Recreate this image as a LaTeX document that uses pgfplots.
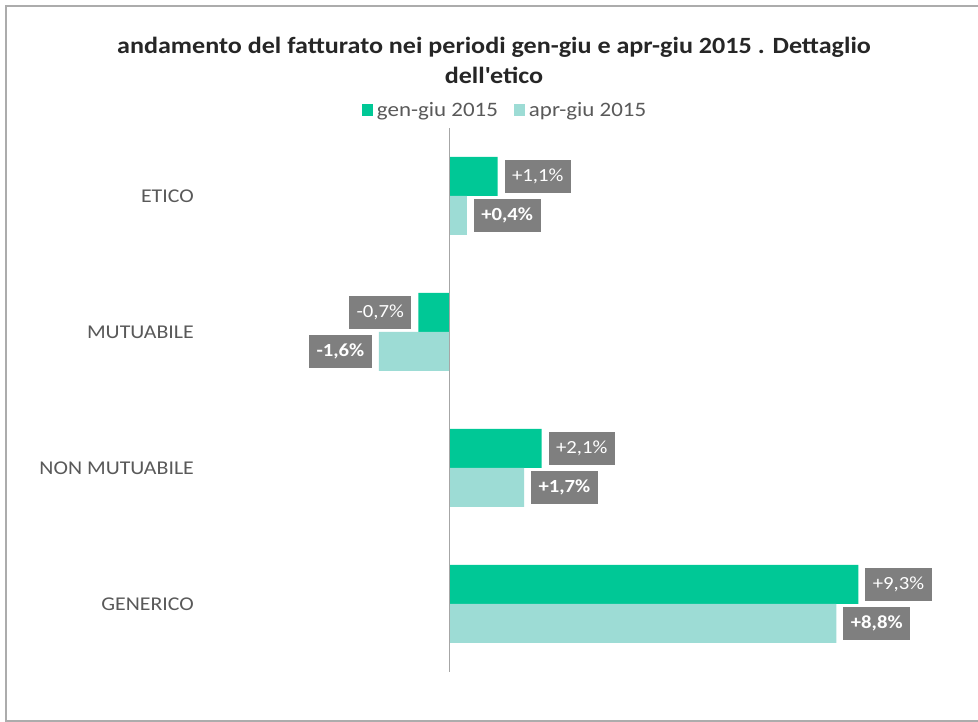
\documentclass[border=0pt]{standalone}
\usepackage{fontspec}
\setmainfont{Carlito}[FakeStretch=1.12]
\usepackage{pgfplots}
\pgfplotsset{compat=1.18}
\usepackage{pgfplotstable}

\definecolor{genc}{RGB}{0,200,150}
\definecolor{aprc}{RGB}{157,220,213}
\definecolor{boxc}{RGB}{127,127,127}
\definecolor{txtc}{RGB}{89,89,89}
\definecolor{ttlc}{RGB}{38,38,38}

% y: 3 = ETICO ... 0 = GENERICO
\pgfplotstableread{
y x
3 1.1
2 -0.7
1 2.1
0 9.3
}\gengiu
\pgfplotstableread{
y x
3 0.4
2 -1.6
1 1.7
0 8.8
}\aprgiu

\begin{document}
\begin{tikzpicture}[x=1pt,y=1pt]
\useasboundingbox (0,0) rectangle (978,722);
\fill[white] (0,0) rectangle (978,722);
\draw[gray!65, line width=1.5pt] (990,1) -- (6,1) -- (6,716) -- (990,716);
\node[font=\fontsize{23.3}{30}\selectfont\bfseries, text=ttlc, align=center]
  at (494,662) {andamento del fatturato nei periodi gen-giu e apr-giu 2015 . Dettaglio\\dell\textquotesingle etico};
\begin{axis}[
  at={(194pt,50pt)}, anchor=south west,
  x=44pt, y=136pt,
  xmin=-5.8, xmax=11.5, ymin=-0.5, ymax=3.5,
  xbar, bar width=39pt,
  axis line style={draw=none},
  xtick=\empty,
  ytick={0,1,2,3},
  yticklabels={GENERICO,NON MUTUABILE,MUTUABILE,ETICO},
  major tick length=0pt,
  yticklabel style={font=\fontsize{19.5}{22}\selectfont, text=txtc, inner xsep=0pt},
  point meta=x,
  nodes near coords={\pgfmathprintnumber[showpos,use comma,fixed,fixed zerofill,precision=1,assume math mode=true]{\pgfplotspointmeta}\%},
  nodes near coords style={fill=boxc, text=white, inner xsep=7.5pt, inner ysep=0pt,
    minimum height=33pt, outer xsep=7pt, outer ysep=0pt,
    font=\fontsize{18.5}{20}\selectfont},
  legend style={at={(0.41,1.033)}, anchor=center, draw=none, legend columns=2,
    font=\fontsize{20.5}{22}\selectfont, text=txtc,
    nodes={inner xsep=4pt},
    /tikz/every even column/.append style={column sep=12pt}},
  legend image code/.code={\fill[#1] (0pt,-6pt) rectangle (11pt,6pt);},
]
\addplot[fill=genc, draw=none, bar shift=19.5pt] table[x=x,y=y] {\gengiu};
\addlegendentry{gen-giu 2015}
\addplot[fill=aprc, draw=none, bar shift=-19.5pt,
  nodes near coords style={font=\fontsize{18.5}{20}\selectfont\bfseries}] table[x=x,y=y] {\aprgiu};
\addlegendentry{apr-giu 2015}
\draw[gray!70, line width=1pt] (axis cs:0,-0.5) -- (axis cs:0,3.5);
\end{axis}
\end{tikzpicture}
\end{document}
